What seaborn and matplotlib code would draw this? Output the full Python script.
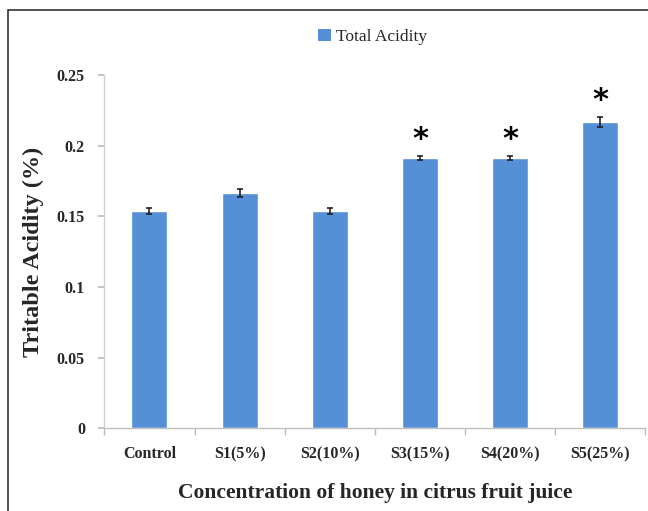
import matplotlib
matplotlib.use("Agg")
import matplotlib.pyplot as plt
import seaborn as sns
import pandas as pd
import numpy as np
from matplotlib.patches import Rectangle, Patch

categories = ["Control", "S1(5%)", "S2(10%)", "S3(15%)", "S4(20%)", "S5(25%)"]
values = [0.1537, 0.1664, 0.1537, 0.1915, 0.1915, 0.2167]
errors = [0.0020, 0.0030, 0.0020, 0.0015, 0.0015, 0.0035]
significant = [False, False, False, True, True, True]
yticks = [0, 0.05, 0.1, 0.15, 0.2, 0.25]
ytick_labels = ["0", "0.05", "0.1", "0.15", "0.2", "0.25"]

sns.set_theme(style="white")
plt.rcParams["font.family"] = ["Liberation Serif", "DejaVu Serif"]

df = pd.DataFrame({"cat": categories, "val": values})
color = "#5590D6"

fig = plt.figure(figsize=(6.48, 5.11), dpi=100)
ax = fig.add_axes([0.161, 0.162, 0.835, 0.691])

sns.barplot(data=df, x="cat", y="val", color=color, width=0.4, ax=ax,
            saturation=1, errorbar=None)
xs = np.arange(len(categories))
ax.errorbar(xs, values, yerr=errors, fmt="none", ecolor="#222222",
            elinewidth=1.2, capsize=2.5, capthick=1.2)
for x, v, e, s in zip(xs, values, errors, significant):
    if s:
        ax.text(x, v + e + 0.0015, "*", ha="center", va="bottom",
                fontsize=22, fontweight="bold", color="black",
                family="DejaVu Sans")

ax.set_ylim(0, 0.25)
ax.set_xlim(-0.5, len(categories) - 0.5)
ax.set_yticks(yticks)
ax.set_yticklabels(ytick_labels, fontsize=11.5, fontweight="bold")
ax.set_xticks(xs)
ax.set_xticklabels(categories, fontsize=11.5, fontweight="bold")
ax.tick_params(axis="x", length=0, pad=13)
ax.tick_params(axis="y", length=4, color="#bbbbbb", pad=10, direction="out", left=True)
ax.set_xticks(np.arange(-0.5, len(categories), 1), minor=True)
ax.tick_params(axis="x", which="minor", length=5, color="#bbbbbb", bottom=True)

for side in ["top", "right"]:
    ax.spines[side].set_visible(False)
ax.spines["left"].set_color("#d0d0d0")
ax.spines["bottom"].set_color("#c0c0c0")
ax.spines["left"].set_linewidth(1.0)
ax.spines["bottom"].set_linewidth(1.0)

ax.set_ylabel("Tritable Acidity (%)", fontsize=17.5, fontweight="bold", labelpad=9)
ax.set_xlabel("Concentration of honey in citrus fruit juice", fontsize=15.5,
              fontweight="bold", labelpad=15)
ax.grid(False)

handles = [Patch(facecolor=color, edgecolor="none", label="Total Acidity")]
fig.legend(handles=handles, loc="center", bbox_to_anchor=(0.575, 0.928), frameon=False,
           fontsize=12.5, handlelength=0.7, handleheight=0.7, handletextpad=0.3)

fig.patches.append(Rectangle((8 / 648, -0.05), 1.1, 1.05 - 10 / 511,
                             transform=fig.transFigure, fill=False,
                             edgecolor="#333333", linewidth=1.2))

fig.savefig("out.png", dpi=100)
